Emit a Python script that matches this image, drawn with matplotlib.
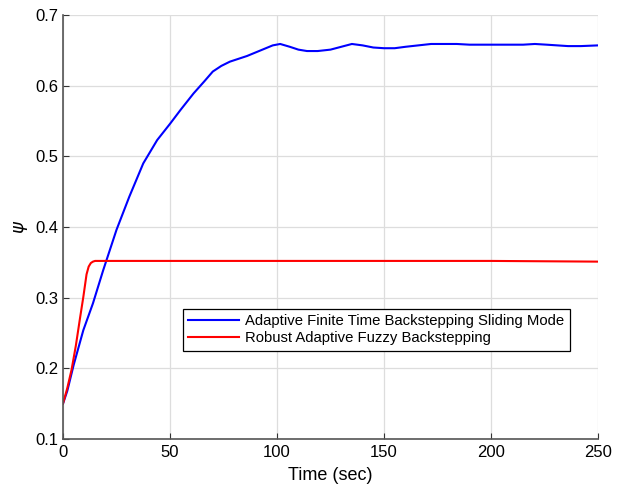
import numpy as np
import matplotlib
matplotlib.use('Agg')
import matplotlib.pyplot as plt

plt.rcParams['font.family'] = ['Liberation Sans', 'DejaVu Sans']

# Adaptive Finite Time Backstepping Sliding Mode (blue)
t_afbsm = [0, 2, 5, 9.5, 14, 18.8, 25, 31, 37.5, 44, 50, 55, 61, 66, 70, 74, 78,
           82, 86, 90, 94, 98, 101.5, 106, 110, 114, 119, 125, 130, 135, 140,
           145, 150, 155, 160, 166, 172, 178, 184, 190, 200, 210, 215, 220.5,
           226, 231, 236, 242, 250]
psi_afbsm = [0.150, 0.168, 0.205, 0.254, 0.292, 0.339, 0.396, 0.443, 0.490,
             0.523, 0.546, 0.566, 0.589, 0.606, 0.620, 0.628, 0.634, 0.638,
             0.642, 0.647, 0.652, 0.657, 0.659, 0.655, 0.651, 0.649, 0.649,
             0.651, 0.655, 0.659, 0.657, 0.654, 0.653, 0.653, 0.655, 0.657,
             0.659, 0.659, 0.659, 0.658, 0.658, 0.658, 0.658, 0.659, 0.658,
             0.657, 0.656, 0.656, 0.657]

# Robust Adaptive Fuzzy Backstepping (red)
t_rafb = [0, 2, 4, 6, 8, 9.5, 11, 12, 13, 14, 15, 17, 20, 50, 100, 150, 200, 250]
psi_rafb = [0.150, 0.172, 0.198, 0.232, 0.272, 0.301, 0.333, 0.344, 0.349,
            0.351, 0.352, 0.352, 0.352, 0.352, 0.352, 0.352, 0.352, 0.351]

labels = ['Adaptive Finite Time Backstepping Sliding Mode',
          'Robust Adaptive Fuzzy Backstepping']

fig = plt.figure(figsize=(6.22, 4.88), dpi=100, facecolor='w')
ax = fig.add_axes([63/622, 1 - 439/488, 535/622, 424/488])

ax.plot(t_afbsm, psi_afbsm, color='#0000ff', lw=1.5, label=labels[0])
ax.plot(t_rafb, psi_rafb, color='#ff0000', lw=1.5, label=labels[1])

ax.set_xlim(0, 250)
ax.set_ylim(0.1, 0.7)
ax.set_xticks(np.arange(0, 251, 50))
ax.set_yticks(np.arange(0.1, 0.71, 0.1))
ax.set_yticklabels(['0.1', '0.2', '0.3', '0.4', '0.5', '0.6', '0.7'])
ax.grid(True, color='#dddddd', lw=0.9)
ax.set_axisbelow(True)
ax.spines['top'].set_visible(False)
ax.spines['right'].set_visible(False)
for s in ['left', 'bottom']:
    ax.spines[s].set_color('#555555')
    ax.spines[s].set_linewidth(1.2)
ax.tick_params(direction='in', length=4, labelsize=12, colors='#333333',
               labelcolor='black')
ax.tick_params(axis='x', pad=4)
ax.tick_params(axis='y', pad=3)

ax.set_xlabel('Time (sec)', fontsize=13, labelpad=5)
ax.set_ylabel(r'$\psi$', fontsize=13)

leg = ax.legend(loc='upper left', bbox_to_anchor=(0.224, 0.307),
                borderaxespad=0, fontsize=10.7, handlelength=3.4,
                fancybox=False, framealpha=1, edgecolor='black',
                borderpad=0.38, labelspacing=0.2, handletextpad=0.4)
leg.get_frame().set_linewidth(0.9)

fig.savefig('out.png', dpi=100)
